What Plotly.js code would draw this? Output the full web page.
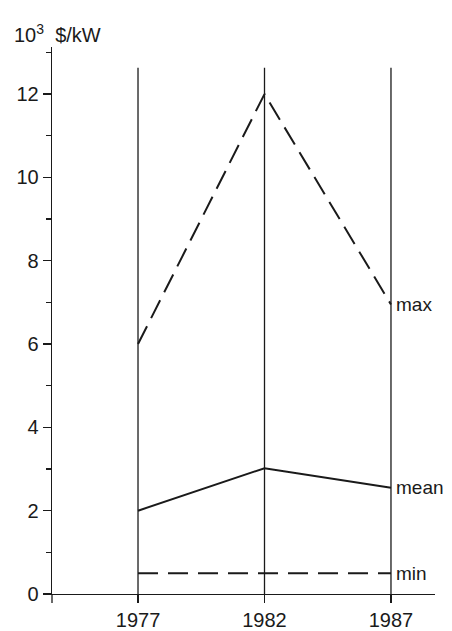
<!DOCTYPE html>
<html>
<head>
<meta charset="utf-8">
<script src="https://cdn.plot.ly/plotly-3.0.1.min.js"></script>
<style>html,body{margin:0;padding:0;background:#fff;}#chart{width:452px;height:631px;}</style>
</head>
<body>
<div id="chart"></div>
<script>
var years = [1977, 1982, 1987];
var maxVals = [6.0, 12.0, 6.95];
var meanVals = [2.0, 3.02, 2.55];
var minVals = [0.5, 0.5, 0.5];
var seriesLabels = ['max', 'mean', 'min'];
var yTicks = [0, 2, 4, 6, 8, 10, 12];
var xTicks = ['1977', '1982', '1987'];
var guideTop = 12.63;

var ink = '#1a1a1a';
var fontFam = 'Liberation Sans, Arial, sans-serif';

var traces = [];
years.forEach(function (yr) {
  traces.push({x: [yr, yr], y: [0, guideTop], mode: 'lines', line: {color: ink, width: 1.3}, hoverinfo: 'skip', showlegend: false});
});
traces.push({x: years, y: maxVals, mode: 'lines', line: {color: ink, width: 2, dash: '20px,9px'}, showlegend: false});
traces.push({x: years, y: meanVals, mode: 'lines', line: {color: ink, width: 2}, showlegend: false});
traces.push({x: years, y: minVals, mode: 'lines', line: {color: ink, width: 2, dash: '20px,10px'}, showlegend: false});

var lastVals = [maxVals[2], meanVals[2], minVals[2]];
var annotations = seriesLabels.map(function (s, i) {
  return {x: years[2], y: lastVals[i], xref: 'x', yref: 'y', text: s, showarrow: false,
    xanchor: 'left', yanchor: 'middle', xshift: 3, font: {family: fontFam, size: 19, color: ink}};
});
annotations.push({x: -40 / 383, y: (594.3 - 33) / 547.3, xref: 'paper', yref: 'paper',
  text: '10<sup>3</sup>\u00a0\u00a0$/kW', showarrow: false, xanchor: 'left', yanchor: 'middle',
  font: {family: fontFam, size: 20, color: ink}});

var layout = {
  width: 452, height: 631,
  margin: {l: 52, r: 17, t: 47, b: 36.7},
  paper_bgcolor: '#fff', plot_bgcolor: '#fff',
  showlegend: false,
  xaxis: {
    range: [1973.6, 1988.74], tickvals: years, ticktext: xTicks,
    showline: true, linecolor: ink, linewidth: 1.3,
    ticks: 'outside', ticklen: 8, tickwidth: 1.3, tickcolor: ink,
    showgrid: false, zeroline: false,
    tickfont: {family: fontFam, size: 20, color: ink}
  },
  yaxis: {
    range: [0, 13.13], tickvals: yTicks,
    showline: true, linecolor: ink, linewidth: 1.3,
    ticks: 'outside', ticklen: 8, tickwidth: 1.3, tickcolor: ink,
    minor: {dtick: 1, tick0: 1, ticks: 'outside', ticklen: 5, tickwidth: 1.2, tickcolor: ink, showgrid: false},
    showgrid: false, zeroline: false,
    tickfont: {family: fontFam, size: 20, color: ink}
  },
  shapes: [
    {type: 'line', xref: 'paper', yref: 'paper', x0: 0, x1: 0, y0: 0, y1: -9 / 547.3, line: {color: ink, width: 1.3}},
    {type: 'line', xref: 'paper', yref: 'paper', x0: -7 / 383, x1: 0, y0: 0, y1: 0, line: {color: ink, width: 1.3}}
  ],
  annotations: annotations
};

Plotly.newPlot('chart', traces, layout, {staticPlot: true, displayModeBar: false});
</script>
</body>
</html>
